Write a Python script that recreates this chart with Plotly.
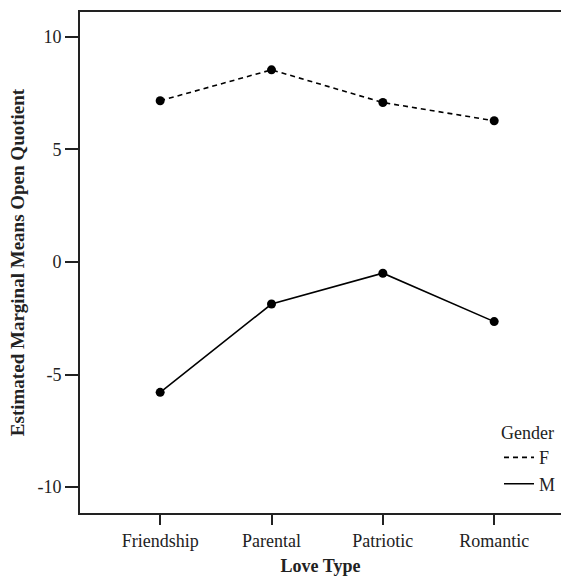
import plotly.graph_objects as go

categories = ["Friendship", "Parental", "Patriotic", "Romantic"]
female = [7.16, 8.53, 7.08, 6.27]
male = [-5.79, -1.87, -0.50, -2.65]
y_ticks = [-10, -5, 0, 5, 10]
y_tick_labels = ["-10", "-5", "0", "5", "10"]

x_idx = list(range(len(categories)))
FONT = "Liberation Serif"

fig = go.Figure()
# legend-only line traces
fig.add_trace(go.Scatter(x=x_idx, y=female, mode="lines", name="F",
                         line=dict(color="black", width=1.6, dash="5px,4px")))
fig.add_trace(go.Scatter(x=x_idx, y=male, mode="lines", name="M",
                         line=dict(color="black", width=1.6)))
fig.add_trace(go.Scatter(x=x_idx, y=female, mode="markers", showlegend=False,
                         marker=dict(color="black", size=9)))
fig.add_trace(go.Scatter(x=x_idx, y=male, mode="markers", showlegend=False,
                         marker=dict(color="black", size=9)))

fig.update_layout(
    width=561, height=577,
    margin=dict(l=80, r=0, t=12, b=64),
    paper_bgcolor="white", plot_bgcolor="white",
    font=dict(family=FONT, size=18, color="#222"),
    showlegend=True,
    legend=dict(
        title=dict(text="Gender", font=dict(family=FONT, size=18)),
        x=0.872, xanchor="left", y=0.194, yanchor="top",
        bgcolor="rgba(0,0,0,0)", itemwidth=30, tracegroupgap=0,
        font=dict(family=FONT, size=18),
    ),
    xaxis=dict(
        range=[-0.72, 3.6],
        tickvals=x_idx, ticktext=categories,
        showline=True, linecolor="#222", linewidth=2, mirror=True,
        ticks="outside", ticklen=10, tickwidth=2, tickcolor="#222",
        showgrid=False, zeroline=False,
        title=dict(text="<b>Love Type</b>", font=dict(family=FONT, size=18), standoff=10),
    ),
    yaxis=dict(
        range=[-11.15, 11.1],
        tickvals=y_ticks, ticktext=y_tick_labels,
        showline=True, linecolor="#222", linewidth=2,
        ticks="outside", ticklen=13, tickwidth=2, tickcolor="#222",
        showgrid=False, zeroline=False,
        title=dict(text="<b>Estimated Marginal Means Open Quotient</b>",
                   font=dict(family=FONT, size=19), standoff=8),
    ),
)

fig.write_html("out.html", config={"displayModeBar": False},
               post_script="document.body.style.margin='0px';")
